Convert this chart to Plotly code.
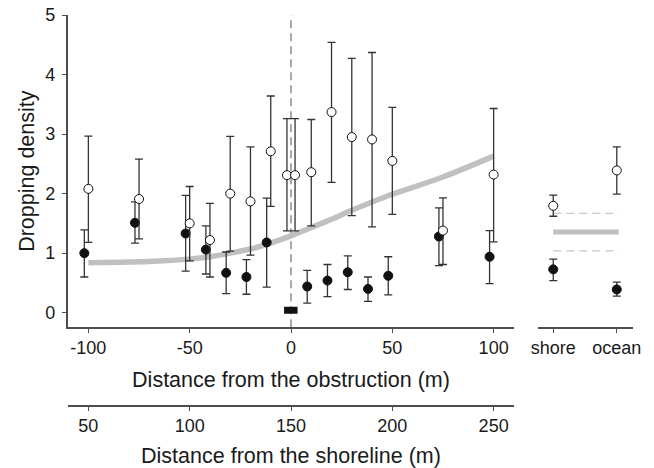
import plotly.graph_objects as go

# ---------------- data ----------------
# open circles (distance from obstruction, m)
open_dist = [-100, -75, -50, -40, -30, -20, -10, -2, 2, 10, 20, 30, 40, 50, 75, 100]
open_mean = [2.08, 1.91, 1.50, 1.22, 2.00, 1.87, 2.71, 2.31, 2.31, 2.36, 3.37, 2.95, 2.91, 2.55, 1.38, 2.32]
open_hi   = [2.965, 2.58, 2.12, 1.835, 2.96, 2.785, 3.64, 3.26, 3.26, 3.245, 4.54, 4.27, 4.37, 3.45, 1.93, 3.43]
open_lo   = [1.18, 1.24, 0.87, 0.60, 1.035, 0.968, 1.785, 1.375, 1.375, 1.46, 2.19, 1.63, 1.44, 1.65, 0.81, 1.19]

# filled circles
filled_dist = [-100, -75, -50, -40, -30, -20, -10, 10, 20, 30, 40, 50, 75, 100]
filled_mean = [1.00, 1.51, 1.33, 1.06, 0.67, 0.60, 1.18, 0.44, 0.54, 0.68, 0.40, 0.62, 1.28, 0.94]
filled_hi   = [1.39, 1.86, 1.97, 1.46, 1.02, 0.89, 1.925, 0.71, 0.81, 0.956, 0.60, 0.94, 1.76, 1.38]
filled_lo   = [0.60, 1.17, 0.70, 0.65, 0.32, 0.31, 0.43, 0.16, 0.27, 0.39, 0.19, 0.30, 0.79, 0.49]

# zero values at the obstruction
zero_dist = [-1.7, 1.5]
zero_val = [0.04, 0.04]

# fitted curve
curve_x = [-100, -80, -65, -50, -40, -30, -20, -10, 0, 10, 20, 30, 40, 50, 75, 100]
curve_y = [0.84, 0.85, 0.87, 0.90, 0.94, 1.00, 1.07, 1.17, 1.29, 1.43, 1.57, 1.72, 1.86, 1.99, 2.28, 2.63]

# side panel
side_cats = ["shore", "ocean"]
side_open_mean = [1.795, 2.39]
side_open_hi = [1.975, 2.785]
side_open_lo = [1.62, 1.99]
side_filled_mean = [0.728, 0.39]
side_filled_hi = [0.90, 0.515]
side_filled_lo = [0.54, 0.28]
ref_mean = 1.354
ref_upper = 1.668
ref_lower = 1.04

x_tick_vals = [-100, -50, 0, 50, 100]
x_tick_text = ["-100", "-50", "0", "50", "100"]
shore_offset = 150
shore_tick_text = ["50", "100", "150", "200", "250"]
y_ticks = [0, 1, 2, 3, 4, 5]

# ---------------- style ----------------
W, H = 654, 468
FONT = "Liberation Sans, Arial, sans-serif"
TXT = "#1a1a1a"
AX = "#4d4d4d"
ERR = "#333333"
dodge = -2

main_dom = [67.7 / W, 514.3 / W]
side_dom = [538 / W, 633.3 / W]
y_dom = [1 - 327.3 / H, 1 - 15 / H]
x_range = [-110.2, 110.2]
y_range = [-0.245, 5.0]


def err(mean, hi, lo):
    return dict(type="data", symmetric=False,
                array=[h - m for h, m in zip(hi, mean)],
                arrayminus=[m - l for m, l in zip(mean, lo)],
                color=ERR, thickness=1.3, width=4)


fig = go.Figure()

fig.add_trace(go.Scatter(x=curve_x, y=curve_y, mode="lines",
                         line=dict(color="#c0c0c0", width=5.5, shape="spline"),
                         xaxis="x", yaxis="y", hoverinfo="skip"))

fig.add_trace(go.Scatter(x=[d + dodge for d in filled_dist], y=filled_mean, mode="markers",
                         marker=dict(symbol="circle", size=9, color="#111111",
                                     line=dict(color="#111111", width=1)),
                         error_y=err(filled_mean, filled_hi, filled_lo),
                         xaxis="x", yaxis="y"))

fig.add_trace(go.Scatter(x=open_dist, y=open_mean, mode="markers",
                         marker=dict(symbol="circle", size=9, color="white",
                                     line=dict(color="#111111", width=1)),
                         error_y=err(open_mean, open_hi, open_lo),
                         xaxis="x", yaxis="y"))

fig.add_trace(go.Scatter(x=zero_dist, y=zero_val, mode="markers",
                         marker=dict(symbol="square", size=7, color="#111111"),
                         xaxis="x", yaxis="y"))

# invisible trace carrying the shoreline axis
fig.add_trace(go.Scatter(x=[v + shore_offset for v in x_tick_vals], y=[None] * len(x_tick_vals),
                         mode="markers", marker=dict(opacity=0), xaxis="x3", yaxis="y",
                         hoverinfo="skip"))

# side panel
side_x = list(range(len(side_cats)))
fig.add_trace(go.Scatter(x=[side_x[0], side_x[-1] + 0.03], y=[ref_mean, ref_mean], mode="lines",
                         line=dict(color="#c0c0c0", width=5), xaxis="x2", yaxis="y2"))
for v in (ref_upper, ref_lower):
    fig.add_trace(go.Scatter(x=[side_x[0], side_x[-1] + 0.03], y=[v, v], mode="lines",
                             line=dict(color="#c8c8c8", width=1.3, dash="8px,5px"),
                             xaxis="x2", yaxis="y2"))
fig.add_trace(go.Scatter(x=side_x, y=side_filled_mean, mode="markers",
                         marker=dict(symbol="circle", size=9, color="#111111",
                                     line=dict(color="#111111", width=1)),
                         error_y=err(side_filled_mean, side_filled_hi, side_filled_lo),
                         xaxis="x2", yaxis="y2"))
fig.add_trace(go.Scatter(x=side_x, y=side_open_mean, mode="markers",
                         marker=dict(symbol="circle", size=9, color="white",
                                     line=dict(color="#111111", width=1)),
                         error_y=err(side_open_mean, side_open_hi, side_open_lo),
                         xaxis="x2", yaxis="y2"))

# dashed obstruction line
fig.add_shape(type="line", xref="x", yref="y domain", x0=0, x1=0, y0=0, y1=1,
              line=dict(color="#8c8c8c", width=1.5, dash="8px,5px"), layer="below")

axis_common = dict(showgrid=False, zeroline=False, showline=True, linecolor=AX, linewidth=1.5,
                   ticks="outside", ticklen=4, tickwidth=1.3, tickcolor=AX, automargin=False,
                   tickfont=dict(family=FONT, size=18, color=TXT))

fig.update_layout(
    width=W, height=H,
    margin=dict(l=0, r=0, t=0, b=0),
    paper_bgcolor="white", plot_bgcolor="rgba(0,0,0,0)",
    showlegend=False,
    font=dict(family=FONT, color=TXT),
    xaxis=dict(domain=main_dom, range=x_range, anchor="y",
               tickmode="array", tickvals=x_tick_vals, ticktext=x_tick_text,
               ticklabelstandoff=-1,
               title=dict(text="Distance from the obstruction (m)",
                          font=dict(family=FONT, size=21.5, color=TXT), standoff=15),
               **axis_common),
    xaxis3=dict(range=[x_range[0] + shore_offset, x_range[1] + shore_offset],
                anchor="free", position=1 - 406 / H, overlaying="x",
                tickmode="array", tickvals=[v + shore_offset for v in x_tick_vals],
                ticktext=shore_tick_text, ticklabelstandoff=0,
                title=dict(text="Distance from the shoreline (m)",
                           font=dict(family=FONT, size=21.5, color=TXT), standoff=14),
                **axis_common),
    yaxis=dict(domain=y_dom, range=y_range, anchor="x",
               tickmode="array", tickvals=y_ticks, ticklabelstandoff=3,
               title=dict(text="Dropping density",
                          font=dict(family=FONT, size=21.5, color=TXT), standoff=5),
               **axis_common),
    xaxis2=dict(domain=side_dom, range=[-0.24, 1.26], anchor="y2",
                tickmode="array", tickvals=side_x, ticktext=side_cats,
                ticklabelstandoff=-1, **axis_common),
    yaxis2=dict(domain=y_dom, range=y_range, anchor="x2", visible=False),
)

fig.write_html("out.html", config={"displayModeBar": False},
               post_script="document.body.style.margin='0';")
